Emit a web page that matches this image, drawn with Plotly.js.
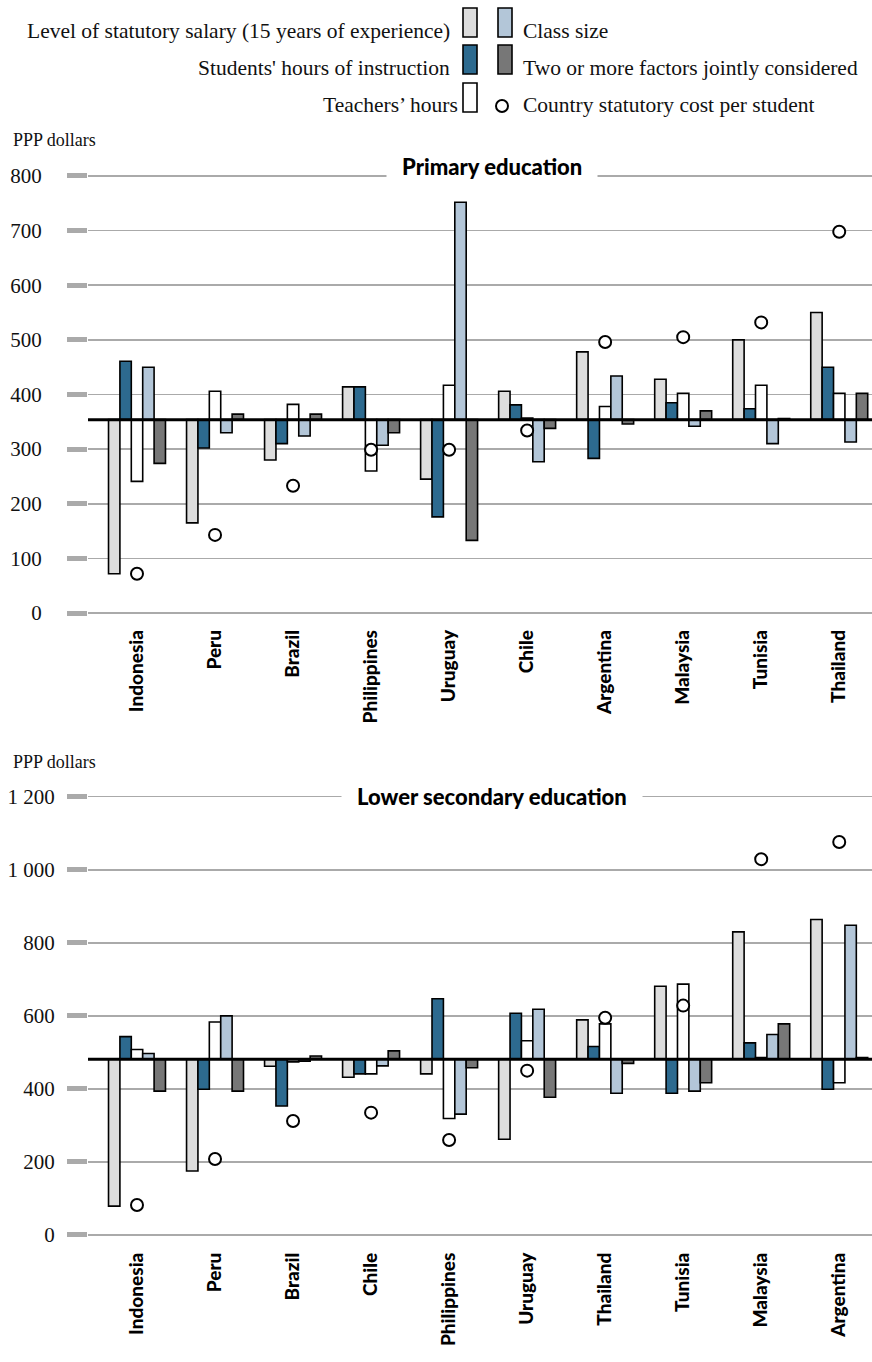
<!DOCTYPE html>
<html>
<head>
<meta charset="utf-8">
<script src="https://cdn.plot.ly/plotly-3.0.1.min.js"></script>
<style>html,body{margin:0;padding:0;background:#fff;}#chart{width:872px;height:1362px;}</style>
</head>
<body>
<div id="chart"></div>
<script>
// ---------- DATA ----------
const seriesNames = [
  "Level of statutory salary (15 years of experience)",
  "Students' hours of instruction",
  "Teachers’ hours",
  "Class size",
  "Two or more factors jointly considered"
];
const costName = "Country statutory cost per student";

// Primary education
const primaryCountries = ["Indonesia","Peru","Brazil","Philippines","Uruguay","Chile","Argentina","Malaysia","Tunisia","Thailand"];
const primaryAverage = 354;
const primarySalary   = [72, 165, 280, 414, 245, 406, 478, 428, 500, 550];
const primaryStudents = [461, 302, 310, 414, 176, 381, 283, 385, 374, 450];
const primaryTeachers = [241, 406, 382, 260, 417, 357, 378, 402, 417, 402];
const primaryClass    = [450, 330, 324, 307, 752, 277, 434, 342, 310, 313];
const primaryJoint    = [274, 364, 364, 330, 133, 338, 346, 370, 356, 402];
const primaryCost     = [72, 143, 233, 299, 299, 334, 496, 505, 532, 698];
const primaryTicks    = [0, 100, 200, 300, 400, 500, 600, 700, 800];

// Lower secondary education
const secondaryCountries = ["Indonesia","Peru","Brazil","Chile","Philippines","Uruguay","Thailand","Tunisia","Malaysia","Argentina"];
const secondaryAverage = 481;
const secondarySalary   = [79, 175, 462, 432, 441, 262, 589, 681, 830, 864];
const secondaryStudents = [543, 399, 353, 441, 647, 607, 516, 388, 526, 399];
const secondaryTeachers = [508, 583, 474, 441, 319, 532, 578, 687, 486, 417];
const secondaryClass    = [497, 600, 476, 463, 331, 618, 388, 394, 549, 848];
const secondaryJoint    = [394, 394, 490, 504, 458, 377, 470, 417, 578, 486];
const secondaryCost     = [82, 208, 312, 335, 260, 450, 595, 628, 1029, 1076];
const secondaryTicks    = [0, 200, 400, 600, 800, 1000, 1200];

// ---------- STYLE ----------
const colors = ["#dddddd", "#2d6a8f", "#ffffff", "#b3c6d8", "#777777"];
const W = 872, H = 1362;
const serif = "Liberation Serif";
const sans = "Lato";

function barTraces(countries, series, avg, xa, ya) {
  return series.map((vals, i) => ({
    type: "bar",
    name: seriesNames[i],
    x: countries,
    y: vals.map(v => v - avg),
    base: avg,
    xaxis: xa, yaxis: ya,
    marker: {color: colors[i], line: {color: "#000", width: 1.6}},
    showlegend: false,
    customdata: vals,
    hovertemplate: "%{x}: %{customdata}<extra>" + seriesNames[i] + "</extra>"
  }));
}
function costTrace(countries, vals, xa, ya) {
  return {
    type: "scatter", mode: "markers", name: costName,
    x: countries, y: vals, xaxis: xa, yaxis: ya,
    marker: {symbol: "circle", size: 12, color: "#fff", line: {color: "#000", width: 2}},
    showlegend: false, cliponaxis: false
  };
}

const data = [
  ...barTraces(primaryCountries, [primarySalary, primaryStudents, primaryTeachers, primaryClass, primaryJoint], primaryAverage, "x", "y"),
  costTrace(primaryCountries, primaryCost, "x", "y"),
  ...barTraces(secondaryCountries, [secondarySalary, secondaryStudents, secondaryTeachers, secondaryClass, secondaryJoint], secondaryAverage, "x2", "y2"),
  costTrace(secondaryCountries, secondaryCost, "x2", "y2")
];

const px = v => v / W;
const py = v => 1 - v / H;

const xCommon = {
  domain: [px(88), 1],
  range: [-0.628, 9.42],
  type: "category",
  tickangle: -90,
  ticks: "",
  showgrid: false, zeroline: false, showline: false,
  tickfont: {family: sans, size: 19, color: "#000", weight: 900},
  ticklabelstandoff: 10,
  automargin: false,
  fixedrange: true
};
const yCommon = {
  ticks: "outside", ticklen: 20, tickwidth: 5, tickcolor: "#aaaaaa",
  showgrid: true, gridcolor: "#aaaaaa", gridwidth: 1.5,
  zeroline: false, showline: false,
  tickfont: {family: serif, size: 21, color: "#111"},
  tickformat: ",d",
  automargin: false,
  fixedrange: true
};

const legendRows = [31, 68, 105];
const legendFont = {family: serif, size: 21.5, color: "#111"};
const annotations = [
  // legend texts
  {text: seriesNames[0], x: px(452), y: py(legendRows[0]), xanchor: "right"},
  {text: seriesNames[1], x: px(452), y: py(legendRows[1]), xanchor: "right"},
  {text: seriesNames[2], x: px(460), y: py(legendRows[2]), xanchor: "right"},
  {text: seriesNames[3], x: px(521), y: py(legendRows[0]), xanchor: "left"},
  {text: seriesNames[4], x: px(521), y: py(legendRows[1]), xanchor: "left"},
  {text: costName, x: px(521), y: py(legendRows[2]), xanchor: "left"},
  // axis unit labels
  {text: "PPP dollars", x: px(11), y: py(140), xanchor: "left", font: {family: serif, size: 18, color: "#111"}},
  {text: "PPP dollars", x: px(11), y: py(762), xanchor: "left", font: {family: serif, size: 18, color: "#111"}},
  // panel titles
  {text: "Primary education", x: px(492), y: 800, yref: "y", xanchor: "center", yanchor: "middle", yshift: 9,
   bgcolor: "#fff", borderpad: 15, font: {family: sans, size: 22, color: "#000", weight: 900}},
  {text: "Lower secondary education", x: px(492), y: 1200, yref: "y2", xanchor: "center", yanchor: "middle",
   bgcolor: "#fff", borderpad: 15, font: {family: sans, size: 22, color: "#000", weight: 900}}
].map(a => Object.assign({xref: "paper", yref: "paper", yanchor: "middle", showarrow: false, font: legendFont}, a));

function swatch(x0, y0, fill) {
  return {type: "rect", xref: "paper", yref: "paper", x0: px(x0), x1: px(x0 + 14), y0: py(y0 + 29), y1: py(y0),
    fillcolor: fill, line: {color: "#000", width: 1.6}};
}
const shapes = [
  swatch(463, 8, colors[0]),
  swatch(498, 8, colors[3]),
  swatch(463, 45, colors[1]),
  swatch(498, 45, colors[4]),
  swatch(463, 83, colors[2]),
  {type: "circle", xref: "paper", yref: "paper", x0: px(496), x1: px(508), y0: py(112), y1: py(100),
   fillcolor: "#fff", line: {color: "#000", width: 2}},
  // average baselines
  {type: "line", xref: "x domain", yref: "y", x0: 0, x1: 1, y0: primaryAverage, y1: primaryAverage, line: {color: "#000", width: 3}},
  {type: "line", xref: "x2 domain", yref: "y2", x0: 0, x1: 1, y0: secondaryAverage, y1: secondaryAverage, line: {color: "#000", width: 3}}
];

const layout = {
  width: W, height: H,
  margin: {l: 0, r: 0, t: 0, b: 0},
  paper_bgcolor: "#fff", plot_bgcolor: "#fff",
  separators: ". ",
  barmode: "group", bargap: 0.27, bargroupgap: 0,
  showlegend: false,
  xaxis: Object.assign({}, xCommon, {anchor: "y", categoryarray: primaryCountries, categoryorder: "array"}),
  yaxis: Object.assign({}, yCommon, {domain: [py(615.2), py(173.8)], range: [-4, 804], tickvals: primaryTicks, anchor: "x", ticklabelstandoff: 21}),
  xaxis2: Object.assign({}, xCommon, {anchor: "y2", categoryarray: secondaryCountries, categoryorder: "array"}),
  yaxis2: Object.assign({}, yCommon, {domain: [py(1237.9), py(793.8)], range: [-8, 1208], tickvals: secondaryTicks, anchor: "x2", ticklabelstandoff: 8}),
  annotations: annotations,
  shapes: shapes
};

Plotly.newPlot("chart", data, layout, {displayModeBar: false, staticPlot: true});
</script>
</body>
</html>
